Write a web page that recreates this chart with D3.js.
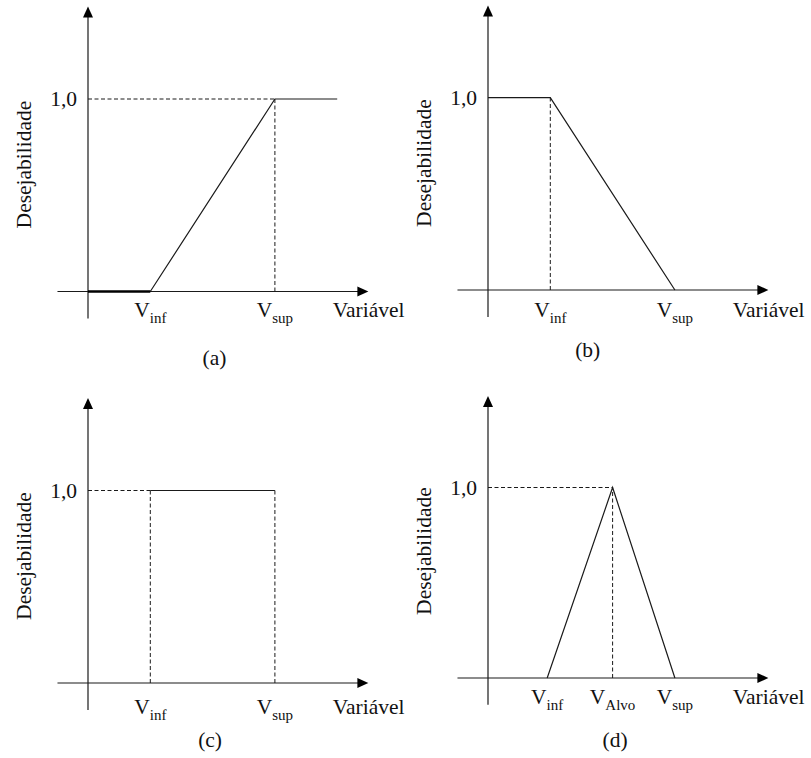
<!DOCTYPE html>
<html>
<head>
<meta charset="utf-8">
<script src="https://cdn.jsdelivr.net/npm/d3@7"></script>
<style>
  body { margin: 0; background: #fff; }
  svg text { fill: #111; }
</style>
</head>
<body>
<svg id="chart" width="811" height="758"></svg>
<script>
// Desirability functions, x in "variable units", y in desirability
const panelIds = ['a', 'b', 'c', 'd'];
const curveA = [[0, 0], [1, 0], [3, 1], [4, 1]];
const curveB = [[0, 1], [1, 1], [3, 0]];
const curveC = [[1, 1], [3, 1]];
const curveD = [[0.95, 0], [2, 1], [3, 0]];
// dashed guide segments
const guidesA = [[[0, 1], [3, 1]], [[3, 0], [3, 1]]];
const guidesB = [[[1, 0], [1, 1]]];
const guidesC = [[[0, 1], [1, 1]], [[1, 0], [1, 1]], [[3, 0], [3, 1]]];
const guidesD = [[[0, 1], [2, 1]], [[2, 0], [2, 1]]];
// x tick labels: position + subscript
const ticksA = [[1, 'inf'], [3, 'sup']];
const ticksB = [[1, 'inf'], [3, 'sup']];
const ticksC = [[1, 'inf'], [3, 'sup']];
const ticksD = [[0.95, 'inf'], [2, 'Alvo'], [3, 'sup']];
const yTick = [1];
const yTickLabel = '1,0';
const xTitle = 'Variável';
const yTitle = 'Desejabilidade';

const panels = [
  {id: 'a', curve: curveA, guides: guidesA, ticks: ticksA, thick: curveA.slice(0, 2),
   ox: 88, oy: 291.5, yUnit: 192.5, labDy: 25, capX: 2.03, capDy: 73},
  {id: 'b', curve: curveB, guides: guidesB, ticks: ticksB, thick: null,
   ox: 488, oy: 290, yUnit: 192.3, labDy: 27, capX: 1.6, capDy: 67},
  {id: 'c', curve: curveC, guides: guidesC, ticks: ticksC, thick: null,
   ox: 88, oy: 683, yUnit: 192.5, labDy: 31, capX: 1.96, capDy: 64},
  {id: 'd', curve: curveD, guides: guidesD, ticks: ticksD, thick: null,
   ox: 488, oy: 678, yUnit: 190.5, labDy: 26, capX: 2.04, capDy: 69}
];

const xUnit = 62.3;
const xDomain = [-0.49, 4.5];
const yDomain = [-0.14, 1.48];
const ink = '#1a1a1a';
const serif = '"Liberation Serif", "Times New Roman", Times, serif';

const svg = d3.select('#chart')
  .attr('font-family', serif);

function drawPanel(p) {
  const x = d3.scaleLinear().domain([0, 1]).range([p.ox, p.ox + xUnit]);
  const y = d3.scaleLinear().domain([0, 1]).range([p.oy, p.oy - p.yUnit]);
  const g = svg.append('g').attr('class', 'panel panel-' + p.id);

  // axes
  g.append('line')
    .attr('x1', x(xDomain[0])).attr('x2', x(xDomain[1]) - 8)
    .attr('y1', y(0)).attr('y2', y(0))
    .attr('stroke', ink).attr('stroke-width', 1.2);
  g.append('path')
    .attr('d', `M${x(xDomain[1])},${y(0)} l-11,-5 l0,10 Z`)
    .attr('fill', '#000');
  g.append('line')
    .attr('x1', x(0)).attr('x2', x(0))
    .attr('y1', y(yDomain[0])).attr('y2', y(yDomain[1]) + 8)
    .attr('stroke', ink).attr('stroke-width', 1.2);
  g.append('path')
    .attr('d', `M${x(0)},${y(yDomain[1])} l-5,11 l10,0 Z`)
    .attr('fill', '#000');

  // dashed guides
  g.selectAll('.guide')
    .data(p.guides)
    .join('line')
    .attr('class', 'guide')
    .attr('x1', d => x(d[0][0])).attr('y1', d => y(d[0][1]))
    .attr('x2', d => x(d[1][0])).attr('y2', d => y(d[1][1]))
    .attr('stroke', ink).attr('stroke-width', 1)
    .attr('stroke-dasharray', '4,2.5');

  // desirability curve
  const line = d3.line().x(d => x(d[0])).y(d => y(d[1]));
  g.append('path')
    .datum(p.curve)
    .attr('d', line)
    .attr('fill', 'none')
    .attr('stroke', ink)
    .attr('stroke-width', 1.2);
  if (p.thick) {
    g.append('path')
      .datum(p.thick)
      .attr('d', line)
      .attr('fill', 'none')
      .attr('stroke', '#000')
      .attr('stroke-width', 2.6);
  }

  // y tick label
  g.selectAll('.ytick')
    .data(yTick)
    .join('text')
    .attr('class', 'ytick')
    .attr('x', x(0) - 11)
    .attr('y', d => y(d) + 7)
    .attr('text-anchor', 'end')
    .attr('font-size', 21.5)
    .text(yTickLabel);

  // x tick labels V_sub
  const tl = g.selectAll('.xtick')
    .data(p.ticks)
    .join('text')
    .attr('class', 'xtick')
    .attr('x', d => x(d[0]))
    .attr('y', y(0) + p.labDy)
    .attr('text-anchor', 'middle')
    .attr('font-size', 21.5);
  tl.append('tspan').text('V');
  tl.append('tspan').attr('font-size', 15).attr('dy', 6).text(d => d[1]);

  // axis titles
  g.append('text')
    .attr('x', x(3.93))
    .attr('y', y(0) + p.labDy)
    .attr('font-size', 21.5)
    .text(xTitle);
  g.append('text')
    .attr('transform', `translate(${x(0) - 57},${y(0) - 127}) rotate(-90)`)
    .attr('text-anchor', 'middle')
    .attr('font-size', 21.5)
    .text(yTitle);

  // caption
  g.append('text')
    .attr('x', x(p.capX))
    .attr('y', y(0) + p.capDy)
    .attr('text-anchor', 'middle')
    .attr('font-size', 21.5)
    .text('(' + p.id + ')');
}

panels.forEach(drawPanel);
</script>
</body>
</html>
